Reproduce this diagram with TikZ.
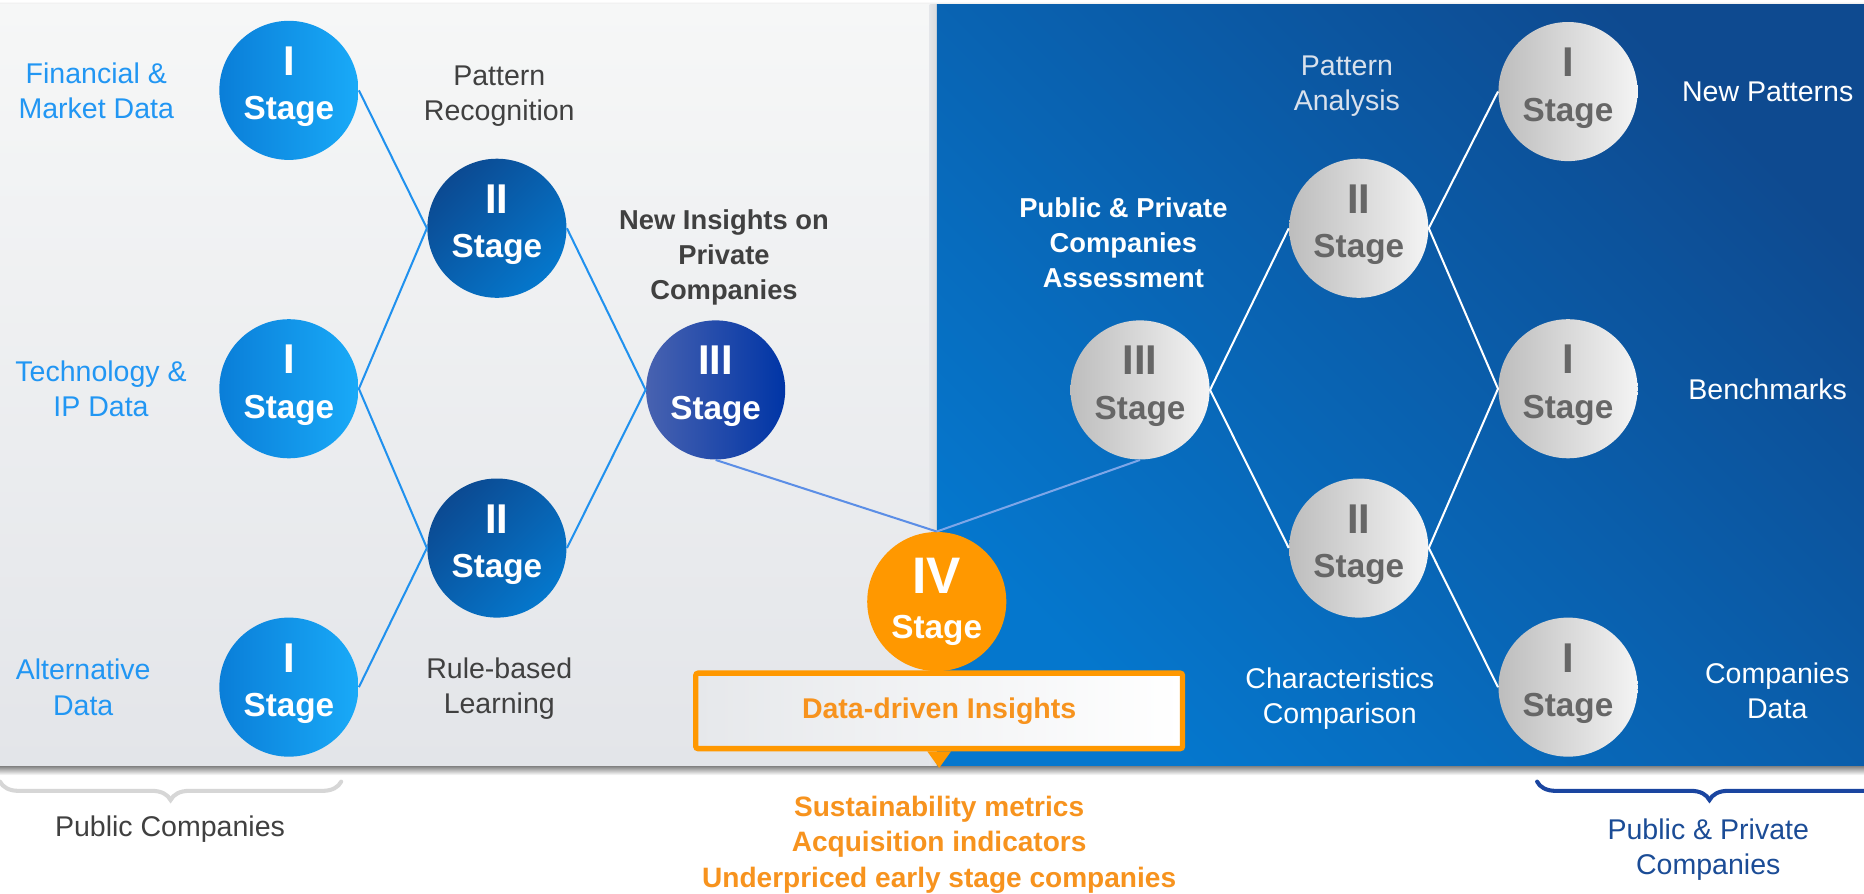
\documentclass[tikz,border=0pt]{standalone}
\usepackage{fontspec}
\setmainfont{Liberation Sans}
\usetikzlibrary{decorations.pathreplacing}
\definecolor{skyb}{HTML}{2196F3}
\definecolor{ink}{HTML}{404040}
\definecolor{amber}{HTML}{F7931E}
\definecolor{boxor}{HTML}{FF9800}
\definecolor{navyb}{HTML}{1B4C96}
\definecolor{stIa}{HTML}{0A7ED8}
\definecolor{stIb}{HTML}{19AAF8}
\definecolor{stIIa}{HTML}{0B4A92}
\definecolor{stIIb}{HTML}{0577CC}
\definecolor{stIIIa}{HTML}{4862B0}
\definecolor{stIIIm}{HTML}{0E3A9C}
\definecolor{stIIIb}{HTML}{0035A6}
\definecolor{greyA}{HTML}{BDBDBD}
\definecolor{greyB}{HTML}{F4F4F4}
\definecolor{greyT}{HTML}{666666}
\definecolor{panLa}{HTML}{F6F7F7}
\definecolor{panLb}{HTML}{E3E5E9}
\definecolor{panRa}{HTML}{0E4A90}
\definecolor{panRb}{HTML}{0577CD}
\definecolor{lnL}{HTML}{2091EE}
\definecolor{lnC}{HTML}{5B8EE6}
\definecolor{lnR}{HTML}{7DA6E8}
\definecolor{brcL}{HTML}{D6D6D6}
\definecolor{brcR}{HTML}{1A45A0}
\definecolor{boxA}{HTML}{E6E8EB}
\definecolor{softw}{HTML}{D9E1EC}
\newcommand{\stagenode}[5][17.5]{
	\node[#2](#3) at (#4) {{\fontsize{#1}{18.75}\selectfont #5}\\Stage};
}

\begin{document}
\begin{tikzpicture}[x=.5pt, y=-.5pt,
		stage/.style={circle, minimum size=58.5pt, inner sep=0pt, align=center, text depth=5.9pt, font=\bfseries\fontsize{14}{18.75}\selectfont},
		stI/.style={stage, text=white, left color=stIa, right color=stIb},
		stII/.style={stage, text=white, bottom color=stIIb, top color=stIIa, shading angle=45},
		stIII/.style={stage, text=white, left color=stIIIa, middle color=stIIIm, right color=stIIIb},
		stIV/.style={stage, text=white, fill=boxor, text depth=2.9pt},
		stG/.style={stage, text=greyT, left color=greyA, right color=greyB},
		lbl/.style={align=center, inner sep=0pt, text depth=0pt, font=\fontsize{12}{14.75}\selectfont},
		blbl/.style={lbl, font=\bfseries\fontsize{11.5}{14.75}\selectfont},
		ln/.style={line width=.85pt},
		brc/.style={decorate, decoration={brace, mirror, amplitude=7.75pt}, line width=1.7pt, line cap=round},
		insbox/.style={draw=boxor, line width=2.25pt, left color=boxA, right color=white, minimum width=204.75pt, minimum height=31.75pt, rounded corners=1pt, text=amber, font=\bfseries\fontsize{12}{14}\selectfont}
	]
	\useasboundingbox (0,0) rectangle (1568,752);
	\fill[white] (0,0) rectangle (1568,752);
	\shade[top color=white, bottom color=black!10] (0,1) rectangle (1568,4);
	\shade[top color=panLa, bottom color=panLb] (0,4) rectangle (788,645);
	\shade[left color=panLb, right color=black!14] (782,4) rectangle (788,645);
	\shade[bottom color=panRb, top color=panRa, shading angle=-45] (788,4) rectangle (1568,645);
	\shade[top color=black!45, bottom color=white] (0,645) rectangle (1568,652);

	\stagenode{stI}{a1}{243,76}{I}
	\stagenode{stI}{a2}{243,327}{I}
	\stagenode{stI}{a3}{243,578}{I}
	\stagenode{stII}{b1}{418,192}{II}
	\stagenode{stII}{b2}{418,461}{II}
	\stagenode{stIII}{c}{602,328}{III}
	\stagenode[21.6]{stIV}{d}{788,506}{IV}
	\stagenode{stG}{e}{959,328}{III}
	\stagenode{stG}{f1}{1143,192}{II}
	\stagenode{stG}{f2}{1143,461}{II}
	\stagenode{stG}{g1}{1319,77}{I}
	\stagenode{stG}{g2}{1319,327}{I}
	\stagenode{stG}{g3}{1319,578}{I}

	\draw[ln, lnL](a1.east)--(b1.west)--(a2.east)--(b2.west)--(a3.east);
	\draw[ln, lnL](b1.east)--(c.west)--(b2.east);
	\draw[ln, lnC](c.south)--(d.north);
	\draw[ln, lnR](d.north)--(e.south);
	\draw[ln, white](f1.west)--(e.east)--(f2.west);
	\draw[ln, white](g1.west)--(f1.east)--(g2.west)--(f2.east)--(g3.west);

	\node[insbox] (dd) at (790,598) {Data-driven Insights};
	\fill[boxor]([xshift=-5pt]dd.south)--([xshift=5pt]dd.south)--([yshift=-7pt]dd.south)--cycle;

	\node[lbl, skyb] (fin) at (81,76) {Financial \&\\Market Data};
	\node[lbl, skyb] (tech) at (85,327) {Technology \&\\IP Data};
	\node[lbl, skyb] (alt) at (70,578) {Alternative\\Data};
	\node[lbl, ink] (prec) at (420,78) {Pattern\\Recognition};
	\node[lbl, ink] (rule) at (420,577) {Rule-based\\Learning};
	\node[blbl, ink] (nins) at (609,214) {New Insights on\\Private\\Companies};
	\node[blbl, white] (ppa) at (945,204) {Public \& Private\\Companies\\Assessment};
	\node[lbl, softw] (pan) at (1133,70) {Pattern\\Analysis};
	\node[lbl, white] (chc) at (1127,585) {Characteristics\\Comparison};
	\node[lbl, white] (npat) at (1487,77) {New Patterns};
	\node[lbl, white] (bmk) at (1487,327) {Benchmarks};
	\node[lbl, white] (cdat) at (1495,581) {Companies\\Data};

	\draw[brc, brcL](0,657.5)--(287,657.5);
	\draw[brc, brcR](1293,657.5)--(1583,657.5);
	\node[lbl, ink] (pubc) at (143,695) {Public Companies};
	\node[lbl, navyb] (pubp) at (1437,712) {Public \& Private\\Companies};
	\node[blbl, amber, font=\bfseries\fontsize{11.8}{15}\selectfont] (outc) at (790,708) {Sustainability metrics\\Acquisition indicators\\Underpriced early stage companies};
\end{tikzpicture}
\end{document}
